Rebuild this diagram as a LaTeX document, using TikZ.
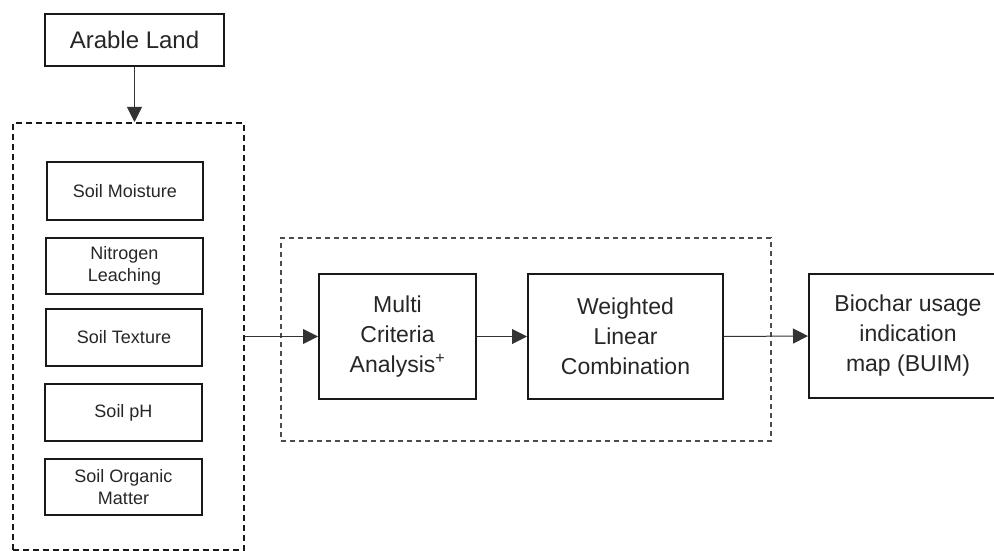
\documentclass[tikz,border=0pt]{standalone}
\usepackage{fontspec}
\setmainfont{Liberation Sans}
\usetikzlibrary{arrows.meta}
\begin{document}
\begin{tikzpicture}[x=1pt,y=-1pt,
  box/.style={draw=black!90, line width=2pt, rectangle, inner sep=0pt, align=center, text=black!85},
  smallbox/.style={box, font=\fontsize{18}{22}\selectfont},
  bigbox/.style={box, font=\fontsize{23}{30}\selectfont},
  outerdash/.style={draw=black!90, line width=2pt, dash pattern=on 6pt off 4pt, rectangle, inner sep=0pt},
  innerdash/.style={draw=black!70, line width=1.1pt, dash pattern=on 5pt off 4pt, rectangle, inner sep=0pt},
  conn/.style={draw=black!80, line width=1pt, -{Triangle[length=15pt,width=15pt]}}
]
\useasboundingbox (0,0) rectangle (994,551);
\node[outerdash, minimum width=231pt, minimum height=427pt] (left) at (128.5,336.5) {};
\node[innerdash, minimum width=490pt, minimum height=203pt] (mid) at (526,339.5) {};
\node[box, font=\fontsize{24}{30}\selectfont, minimum width=179pt, minimum height=52pt] (arable) at (134.5,40) {Arable Land};
\node[smallbox, minimum width=156pt, minimum height=58pt] (moist) at (125,191) {Soil Moisture};
\node[smallbox, minimum width=157pt, minimum height=56pt] (nitro) at (124.5,266) {Nitrogen\\Leaching};
\node[smallbox, minimum width=156pt, minimum height=57pt] (tex) at (124,337.5) {Soil Texture};
\node[smallbox, minimum width=157pt, minimum height=57pt] (ph) at (123.5,412.5) {Soil pH};
\node[smallbox, minimum width=157pt, minimum height=56pt] (som) at (123.5,487) {Soil Organic\\Matter};
\node[bigbox, minimum width=157pt, minimum height=125pt] (mca) at (397.5,336.5) {Multi\\Criteria\\Analysis\textsuperscript{+}};
\node[bigbox, minimum width=195pt, minimum height=125pt] (wlc) at (625.5,336.5) {Weighted\\Linear\\Combination};
\node[bigbox, minimum width=198pt, minimum height=124pt] (bio) at (908,336) {Biochar usage\\indication\\map (BUIM)};
\coordinate (lefttop) at (arable.south |- left.north);
\draw[conn] (arable.south) -- (lefttop);
\draw[conn] (left.east) -- (mca.west);
\draw[conn] (mca.east) -- (wlc.west);
\draw[conn] (wlc.east) -- (bio.west);
\end{tikzpicture}
\end{document}
